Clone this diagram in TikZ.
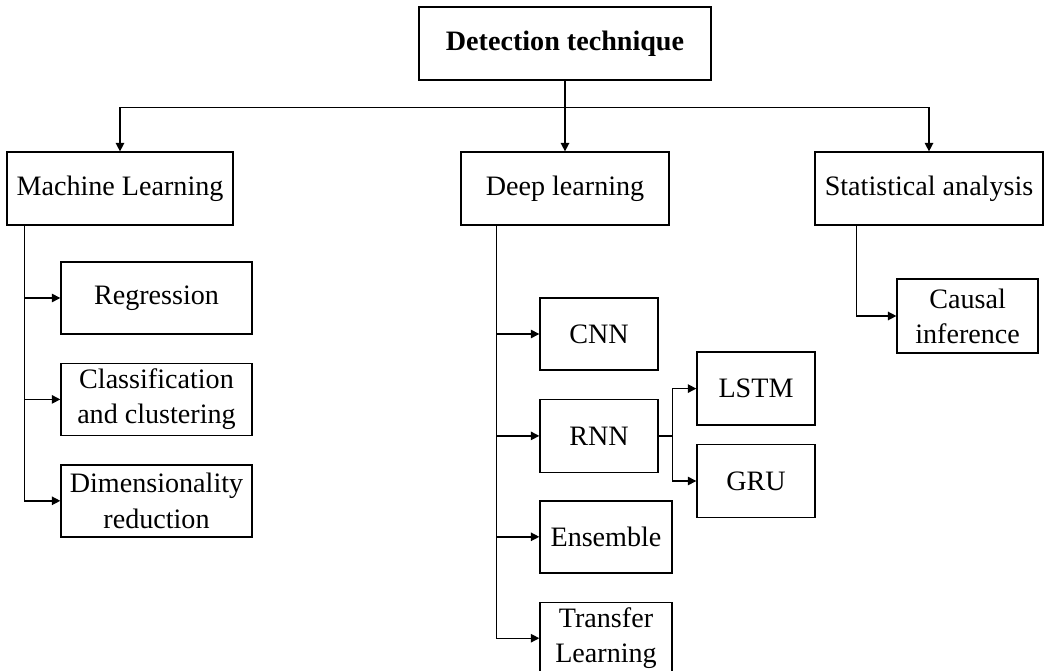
\documentclass[tikz,border=0pt]{standalone}
\usepackage{fontspec}
\setmainfont{Liberation Serif}
\usetikzlibrary{arrows.meta,positioning}

\begin{document}
\begin{tikzpicture}[
  node distance=0.7cm,
  box/.style={rectangle, draw, line width=1pt, inner sep=2pt, minimum height=1.825cm, align=center, font=\fontsize{20}{25}\selectfont},
  arrow/.style={-{Triangle[length=6pt,width=6pt]}, line width=1pt}
]
  \useasboundingbox (0,0) rectangle (26.1,16.775);

  % top and the three branches
  \node[box, minimum width=7.3cm, font=\fontsize{20}{25}\selectfont\bfseries] (tech) at (14.125,15.69) {Detection technique};
  \node[box, minimum width=5.65cm] (ml) at (3.0,12.06) {Machine Learning};
  \node[box, minimum width=5.2cm] (dl) at (14.125,12.06) {Deep learning};
  \node[box, minimum width=5.7cm] (stat) at (23.225,12.06) {Statistical analysis};

  % machine learning
  \node[box, minimum width=4.775cm, minimum height=1.8cm] (regr) at (3.9125,9.325) {Regression};
  \node[box, minimum width=4.775cm, minimum height=1.8cm, below=of regr] (clas) {Classification\\and clustering};
  \node[box, minimum width=4.775cm, minimum height=1.8cm, below=of clas] (dimr) {Dimensionality\\reduction};

  % deep learning
  \node[box, minimum width=2.95cm, minimum height=1.8cm] (cnn) at (14.975,8.425) {CNN};
  \node[box, minimum width=2.95cm, below=of cnn] (rnn) {RNN};
  \node[box, minimum width=3.3cm, minimum height=1.8cm, below=0.675cm of rnn.south west, anchor=north west] (ens) {Ensemble};
  \node[box, minimum width=3.3cm, minimum height=1.8cm, below=0.7cm of ens] (transf) {Transfer\\Learning};
  \node[box, minimum width=2.95cm] (lstm) at (18.9,7.06) {LSTM};
  \node[box, minimum width=2.95cm, below=0.45cm of lstm] (gru) {GRU};

  % statistical analysis
  \node[box, minimum width=3.525cm, minimum height=1.85cm] (causal) at (24.19,8.875) {Causal\\inference};

  \coordinate (bus) at ([yshift=-0.675cm]tech.south);
  \coordinate (mltrunk) at ([xshift=0.45cm]ml.south west);
  \coordinate (dltrunk) at ([xshift=0.9cm]dl.south west);
  \coordinate (stattrunk) at ([xshift=1.05cm]stat.south west);
  \coordinate (rnnsplit) at ([xshift=0.35cm]rnn.east);

  \draw[arrow] (tech.south) -- (dl.north);
  \draw[arrow] (bus) -| (ml.north);
  \draw[arrow] (bus) -| (stat.north);

  \draw[arrow] (mltrunk) |- (regr.west);
  \draw[arrow] (mltrunk) |- (clas.west);
  \draw[arrow] (mltrunk) |- (dimr.west);

  \draw[arrow] (dltrunk) |- (cnn.west);
  \draw[arrow] (dltrunk) |- (rnn.west);
  \draw[arrow] (dltrunk) |- (ens.west);
  \draw[arrow] (dltrunk) |- (transf.west);

  \draw[line width=1pt] (rnn.east) -- (rnnsplit);
  \draw[arrow] (rnnsplit) |- (lstm.west);
  \draw[arrow] (rnnsplit) |- (gru.west);

  \draw[arrow] (stattrunk) |- (causal.west);
\end{tikzpicture}
\end{document}
